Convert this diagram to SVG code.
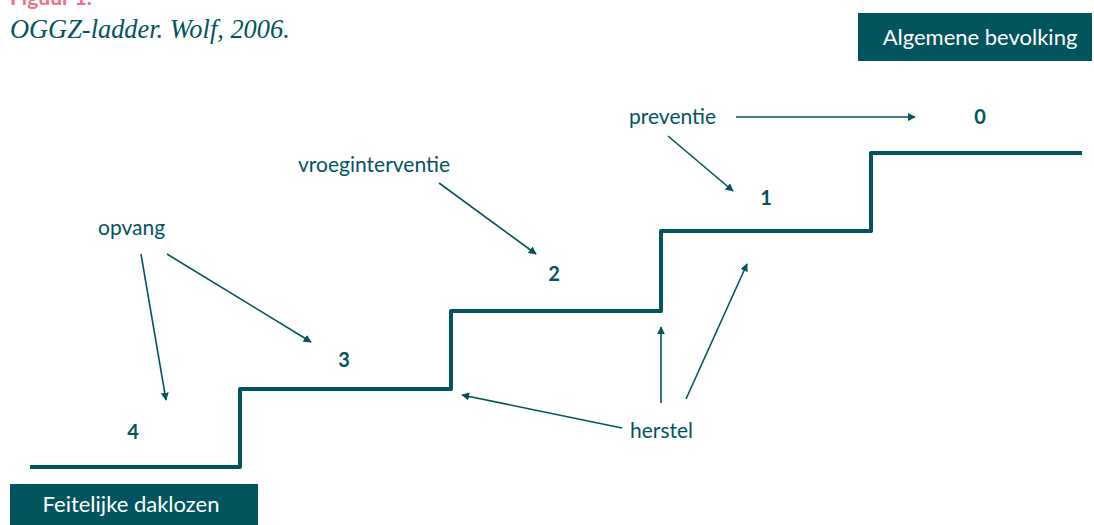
<svg xmlns="http://www.w3.org/2000/svg" width="1094" height="525" viewBox="0 0 1094 525">
<defs>
<marker id="ah" viewBox="0 0 10 10" refX="9" refY="5" markerWidth="8" markerHeight="8" markerUnits="userSpaceOnUse" orient="auto">
<path d="M0,0 L10,5 L0,10 z" fill="#02545E"/>
</marker>
<style>
.lbl{font-family:Lato,"Open Sans",sans-serif;font-size:21px;fill:#02545E}
.num{font-family:Lato,"Open Sans",sans-serif;font-size:20px;font-weight:bold;fill:#02545E;text-anchor:middle}
.box{fill:#02545E}
.boxt{font-family:Lato,"Open Sans",sans-serif;font-size:22px;fill:#ffffff;text-anchor:middle}
.arr{stroke:#02545E;stroke-width:1.6;fill:none;marker-end:url(#ah)}
.stair{stroke:#02545E;stroke-width:4;fill:none;stroke-linejoin:round}
</style>
</defs>
<rect width="1094" height="525" fill="#ffffff"/>
<text x="10" y="5" font-family="Lato,'Open Sans',sans-serif" font-size="21" font-weight="bold" fill="#F06E86">Figuur 1.</text>
<text x="10" y="38" font-family="'Liberation Serif',serif" font-style="italic" font-size="26.4" fill="#02545E">OGGZ-ladder. Wolf, 2006.</text>
<g id="algemene"><rect class="box" x="858" y="13" width="234" height="48"/><text class="boxt" x="980" y="45">Algemene bevolking</text></g>
<g id="feitelijke"><rect class="box" x="10" y="484" width="248" height="41"/><text class="boxt" x="131" y="512">Feitelijke daklozen</text></g>
<g id="stair"><path class="stair" d="M30,467 H240 V389 H451 V311 H661 V231 H871 V153 H1082"/></g>
<g id="n0"><text class="num" x="980" y="124">0</text></g>
<g id="n1"><text class="num" x="766" y="205">1</text></g>
<g id="n2"><text class="num" x="554" y="281">2</text></g>
<g id="n3"><text class="num" x="344" y="367">3</text></g>
<g id="n4"><text class="num" x="133" y="439">4</text></g>
<g id="preventie"><text class="lbl" x="629" y="124">preventie</text></g>
<g id="vroeginterventie"><text class="lbl" x="298" y="172">vroeginterventie</text></g>
<g id="opvang"><text class="lbl" x="98" y="235">opvang</text></g>
<g id="herstel"><text class="lbl" x="630" y="438">herstel</text></g>
<g id="connectors">
<line class="arr" x1="736" y1="117" x2="915" y2="117"/>
<line class="arr" x1="668" y1="136" x2="733" y2="191"/>
<line class="arr" x1="439" y1="183" x2="536" y2="254"/>
<line class="arr" x1="141" y1="254" x2="166" y2="400"/>
<line class="arr" x1="167" y1="254" x2="311" y2="342"/>
<line class="arr" x1="622" y1="428" x2="462" y2="395"/>
<line class="arr" x1="661" y1="403" x2="661" y2="327"/>
<line class="arr" x1="686" y1="399" x2="747" y2="264"/>
</g>
</svg>
